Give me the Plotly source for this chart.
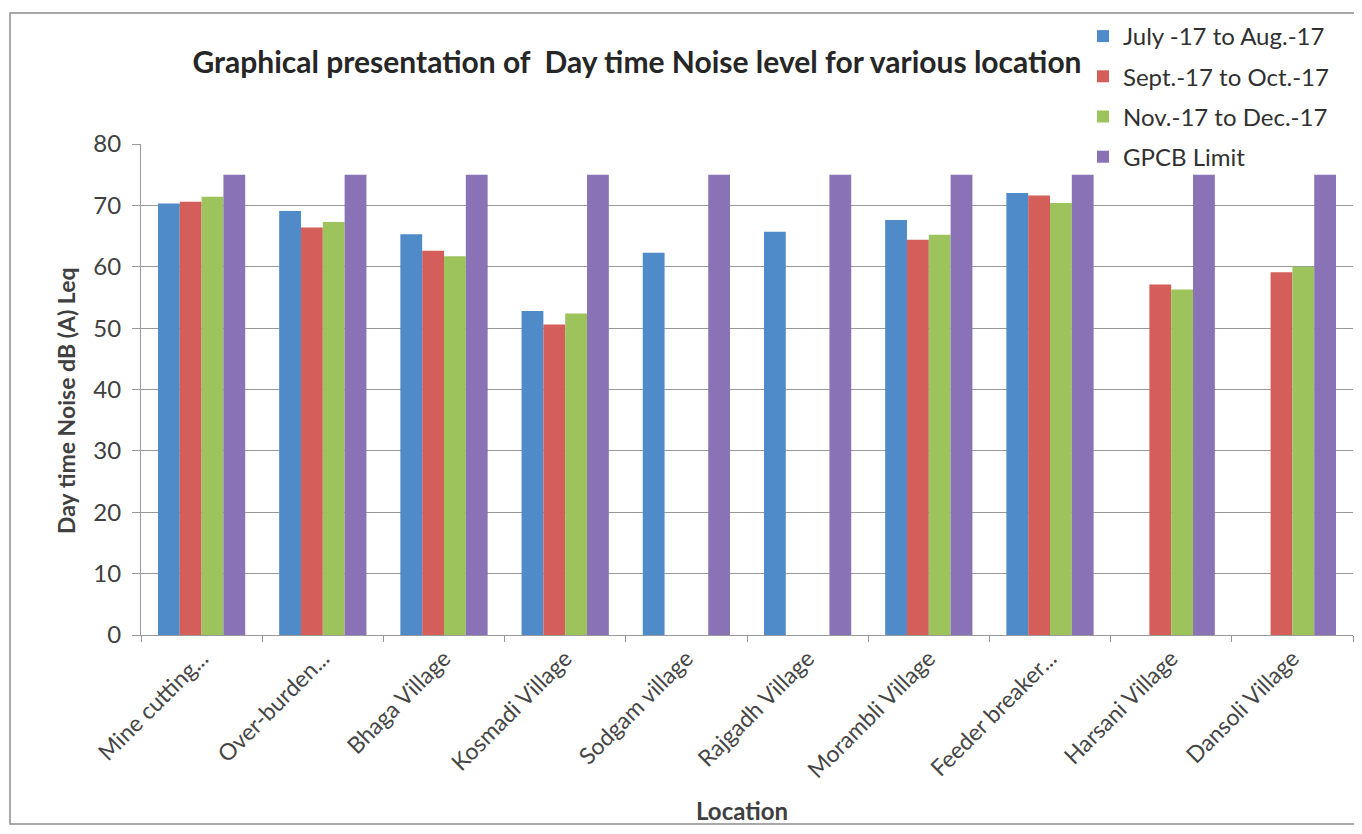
import plotly.graph_objects as go

locations = ["Mine cutting...", "Over-burden...", "Bhaga Village", "Kosmadi Village",
             "Sodgam village", "Rajgadh Village", "Morambli Village", "Feeder breaker...",
             "Harsani Village", "Dansoli Village"]
jul_aug = [70.3, 69.1, 65.3, 52.8, 62.3, 65.7, 67.6, 72.0, None, None]
sep_oct = [70.6, 66.4, 62.6, 50.6, None, None, 64.4, 71.6, 57.1, 59.1]
nov_dec = [71.4, 67.3, 61.7, 52.4, None, None, 65.2, 70.4, 56.3, 60.0]
gpcb = [75, 75, 75, 75, 75, 75, 75, 75, 75, 75]

series_names = ["July -17 to Aug.-17", "Sept.-17 to Oct.-17", "Nov.-17 to Dec.-17", "GPCB Limit"]
series_vals = [jul_aug, sep_oct, nov_dec, gpcb]
colors = ["#4F8BC8", "#D45E5A", "#9CC35C", "#8A72B6"]

FONT = "Lato"
fig = go.Figure()
for i, (name, vals, c) in enumerate(zip(series_names, series_vals, colors)):
    fig.add_trace(go.Bar(x=locations, y=vals, name=name, marker=dict(color=c, line=dict(width=0)),
                         legendgroup=str(i)))

# page body has an 8px margin; work in figure coords (screen - 8)
W, H = 1346, 818
L, T, R, B = 133, 136, 1, 191
PW, PH = W - L - R, H - T - B


def px(x):
    return (x - 8 - L) / PW


def py(y):
    return (H - B - (y - 8)) / PH


fig.update_layout(
    width=W, height=H,
    margin=dict(l=L, r=R, t=T, b=B, autoexpand=False),
    paper_bgcolor="white", plot_bgcolor="white",
    barmode="group", bargap=0.28, bargroupgap=0.0,
    font=dict(family=FONT, color="#404040"),
    title=dict(text="<b>Graphical presentation of  Day time Noise level for various location</b>",
               x=(637 - 8) / W, xanchor="center", y=1 - (62 - 8) / H, yanchor="middle",
               font=dict(size=30, color="#262626", family=FONT)),
    legend=dict(x=px(1083), y=py(14), xanchor="left", yanchor="top",
                traceorder="grouped", tracegroupgap=6, font=dict(size=24, color="#303030"),
                bgcolor="rgba(0,0,0,0)", itemwidth=30),
    showlegend=True,
)
fig.update_xaxes(
    type="category", tickangle=-45, ticks="outside", tickson="boundaries", ticklen=6,
    tickcolor="#999", showline=True, linecolor="#999", linewidth=1,
    tickfont=dict(size=23, color="#454545"),
)
fig.update_yaxes(
    range=[0, 80], dtick=10, showgrid=True, gridcolor="#999999", gridwidth=1.3,
    ticks="outside", ticklen=8, tickcolor="#999", showline=True, linecolor="#999",
    tickfont=dict(size=24, color="#404040"), zeroline=False, ticklabelstandoff=6,
)
fig.add_annotation(text="<b>Location</b>", xref="paper", yref="paper",
                   x=px(742), y=py(810), xanchor="center", yanchor="middle",
                   showarrow=False, font=dict(size=24, color="#404040"))
fig.add_annotation(text="<b>Day time Noise dB (A) Leq</b>", xref="paper", yref="paper",
                   x=px(66), y=py(401), xanchor="center", yanchor="middle",
                   textangle=-90, showarrow=False, font=dict(size=23, color="#404040"))
fig.add_shape(type="rect", xref="paper", yref="paper",
              x0=px(10), x1=px(1359), y0=py(824), y1=py(13),
              line=dict(color="#8C8C8C", width=1.5))

fig.write_html("out.html")
